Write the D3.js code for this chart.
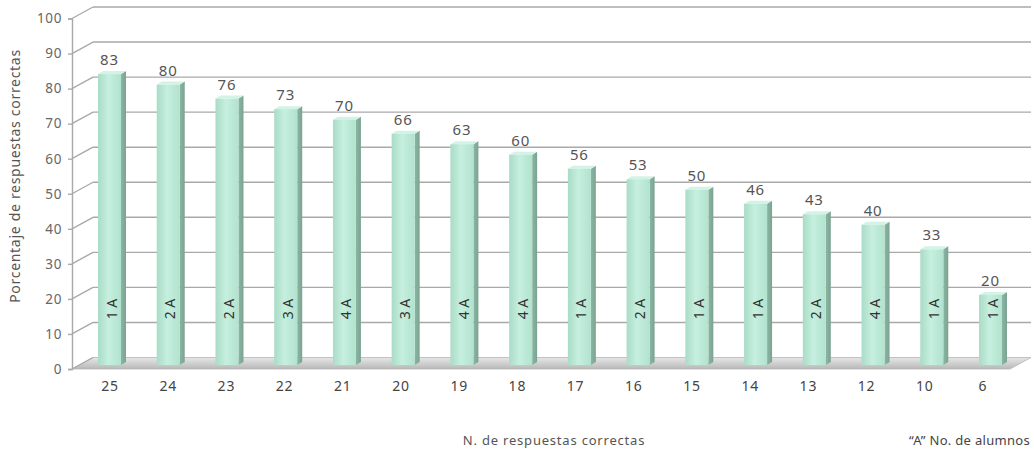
<!DOCTYPE html>
<html>
<head>
<meta charset="utf-8">
<script src="https://cdn.jsdelivr.net/npm/d3@7/dist/d3.min.js"></script>
<style>
  html, body { margin: 0; padding: 0; background: #fff; }
  svg { display: block; font-family: "Noto Sans", Lato, sans-serif; }
</style>
</head>
<body>
<svg id="chart" width="1034" height="452"></svg>
<script>
// Number of correct answers (category axis)
const categories = ["25", "24", "23", "22", "21", "20", "19", "18", "17", "16", "15", "14", "13", "12", "10", "6"];
// Percentage of correct answers per category
const percentages = [83, 80, 76, 73, 70, 66, 63, 60, 56, 53, 50, 46, 43, 40, 33, 20];
// Number of students per category ("A" = alumnos)
const students = [1, 2, 2, 3, 4, 3, 4, 4, 1, 2, 1, 1, 2, 4, 1, 1];
// Value axis ticks
const yTicks = [0, 10, 20, 30, 40, 50, 60, 70, 80, 90, 100];

const svg = d3.select("#chart");

// Oblique 3D frame: front plane and depth offset of the back wall
const depth = { dx: 21, dy: -11.5 };
const frontLeft = 72, frontRight = 1010;
const y = d3.scaleLinear().domain([0, 100]).range([369, 18.5]);

// Bars stand a third of the way into the floor depth
const barShift = { dx: 7, dy: -4 };
const xBar = d3.scalePoint().domain(categories).range([109.5, 990.5]);
const xLabel = d3.scalePoint().domain(categories).range([110, 983]);
const faceW = 23, sideW = 5, topH = 3;

const defs = svg.append("defs");
const frontGrad = defs.append("linearGradient").attr("id", "front").attr("x1", 0).attr("x2", 1).attr("y1", 0).attr("y2", 0);
frontGrad.append("stop").attr("offset", "0%").attr("stop-color", "#a9dcc6");
frontGrad.append("stop").attr("offset", "45%").attr("stop-color", "#c6efdf");
frontGrad.append("stop").attr("offset", "100%").attr("stop-color", "#b2e3ce");
const sideGrad = defs.append("linearGradient").attr("id", "side").attr("x1", 0).attr("x2", 1).attr("y1", 0).attr("y2", 0);
sideGrad.append("stop").attr("offset", "0%").attr("stop-color", "#8cb6a4");
sideGrad.append("stop").attr("offset", "100%").attr("stop-color", "#7aa392");
const floorGrad = defs.append("linearGradient").attr("id", "floor").attr("x1", 0).attr("x2", 0).attr("y1", 0).attr("y2", 1);
floorGrad.append("stop").attr("offset", "0%").attr("stop-color", "#e6e6e6");
floorGrad.append("stop").attr("offset", "50%").attr("stop-color", "#d0d0d0");
floorGrad.append("stop").attr("offset", "100%").attr("stop-color", "#b8b8b8");

const gridColor = "#a9a9a9";

// Floor
const y0 = y(0);
svg.append("path")
  .attr("d", `M${frontLeft},${y0} L${frontRight},${y0} L${frontRight + depth.dx},${y0 + depth.dy} L${frontLeft + depth.dx},${y0 + depth.dy} Z`)
  .attr("fill", "url(#floor)")
  .attr("stroke", "#b5b5b5")
  .attr("stroke-width", 0.8);

// Back wall gridlines and side wall lines
const grid = svg.append("g");
yTicks.filter(t => t > 0).forEach(t => {
  grid.append("line")
    .attr("x1", frontLeft + depth.dx).attr("x2", frontRight + depth.dx)
    .attr("y1", y(t) + depth.dy).attr("y2", y(t) + depth.dy)
    .attr("stroke", gridColor).attr("stroke-width", 1.4);
});
yTicks.forEach(t => {
  grid.append("line")
    .attr("x1", frontLeft).attr("x2", frontLeft + depth.dx)
    .attr("y1", y(t)).attr("y2", y(t) + depth.dy)
    .attr("stroke", gridColor).attr("stroke-width", 1.4);
});

// Front value axis
const yAxis = d3.axisLeft(y).tickValues(yTicks).tickSize(4).tickPadding(6);
const axisG = svg.append("g").attr("transform", `translate(${frontLeft},0)`).call(yAxis);
axisG.select(".domain").attr("stroke", gridColor).attr("stroke-width", 1.4);
axisG.selectAll(".tick line").attr("stroke", gridColor).attr("stroke-width", 1.4);
axisG.selectAll(".tick text").attr("fill", "#666").attr("font-size", 13.5)
  .attr("letter-spacing", 0.6)
  .attr("font-family", "Noto Sans, Lato, sans-serif");

// Bars
const bars = svg.append("g").selectAll("g.bar")
  .data(categories.map((c, i) => ({ c, v: percentages[i], n: students[i] })))
  .join("g").attr("class", "bar");

const baseY = y0 + barShift.dy;
bars.each(function (d) {
  const g = d3.select(this);
  const cx = xBar(d.c);
  const left = cx - faceW / 2;
  const right = cx + faceW / 2;
  const top = y(d.v) + barShift.dy;
  // side face
  g.append("path")
    .attr("d", `M${right},${top} L${right + sideW},${top - topH} L${right + sideW},${baseY - topH} L${right},${baseY} Z`)
    .attr("fill", "url(#side)");
  // top face
  g.append("path")
    .attr("d", `M${left},${top} L${left + sideW},${top - topH} L${right + sideW},${top - topH} L${right},${top} Z`)
    .attr("fill", "#d3f3e6");
  // front face
  g.append("rect")
    .attr("x", left).attr("y", top)
    .attr("width", faceW).attr("height", baseY - top)
    .attr("fill", "url(#front)");
  // value label
  g.append("text")
    .attr("x", cx).attr("y", top - 9)
    .attr("text-anchor", "middle")
    .attr("fill", "#555").attr("font-size", 15)
    .attr("letter-spacing", 0.8)
    .text(d.v);
  // students label inside the bar
  g.append("text")
    .attr("transform", `translate(${cx + 7},309) rotate(-90)`)
    .attr("text-anchor", "middle")
    .attr("fill", "#333").attr("font-size", 14)
    .text(`${d.n} A`);
});

// Category labels
svg.append("g").selectAll("text")
  .data(categories)
  .join("text")
  .attr("x", d => xLabel(d)).attr("y", 391)
  .attr("text-anchor", "middle")
  .attr("fill", "#444").attr("font-size", 14)
  .attr("letter-spacing", 0.8)
  .text(d => d);

// Axis titles
svg.append("text")
  .attr("transform", "translate(20,176) rotate(-90)")
  .attr("text-anchor", "middle")
  .attr("fill", "#555").attr("font-size", 14)
  .attr("letter-spacing", 0.7)
  .text("Porcentaje de respuestas correctas");

svg.append("text")
  .attr("x", 554).attr("y", 445)
  .attr("text-anchor", "middle")
  .attr("fill", "#555").attr("font-size", 13)
  .attr("letter-spacing", 0.8)
  .text("N. de respuestas correctas");

svg.append("text")
  .attr("x", 1030).attr("y", 445)
  .attr("text-anchor", "end")
  .attr("fill", "#444").attr("font-size", 13)
  .attr("letter-spacing", 0.3)
  .text("\u201CA\u201D No. de alumnos");
</script>
</body>
</html>
